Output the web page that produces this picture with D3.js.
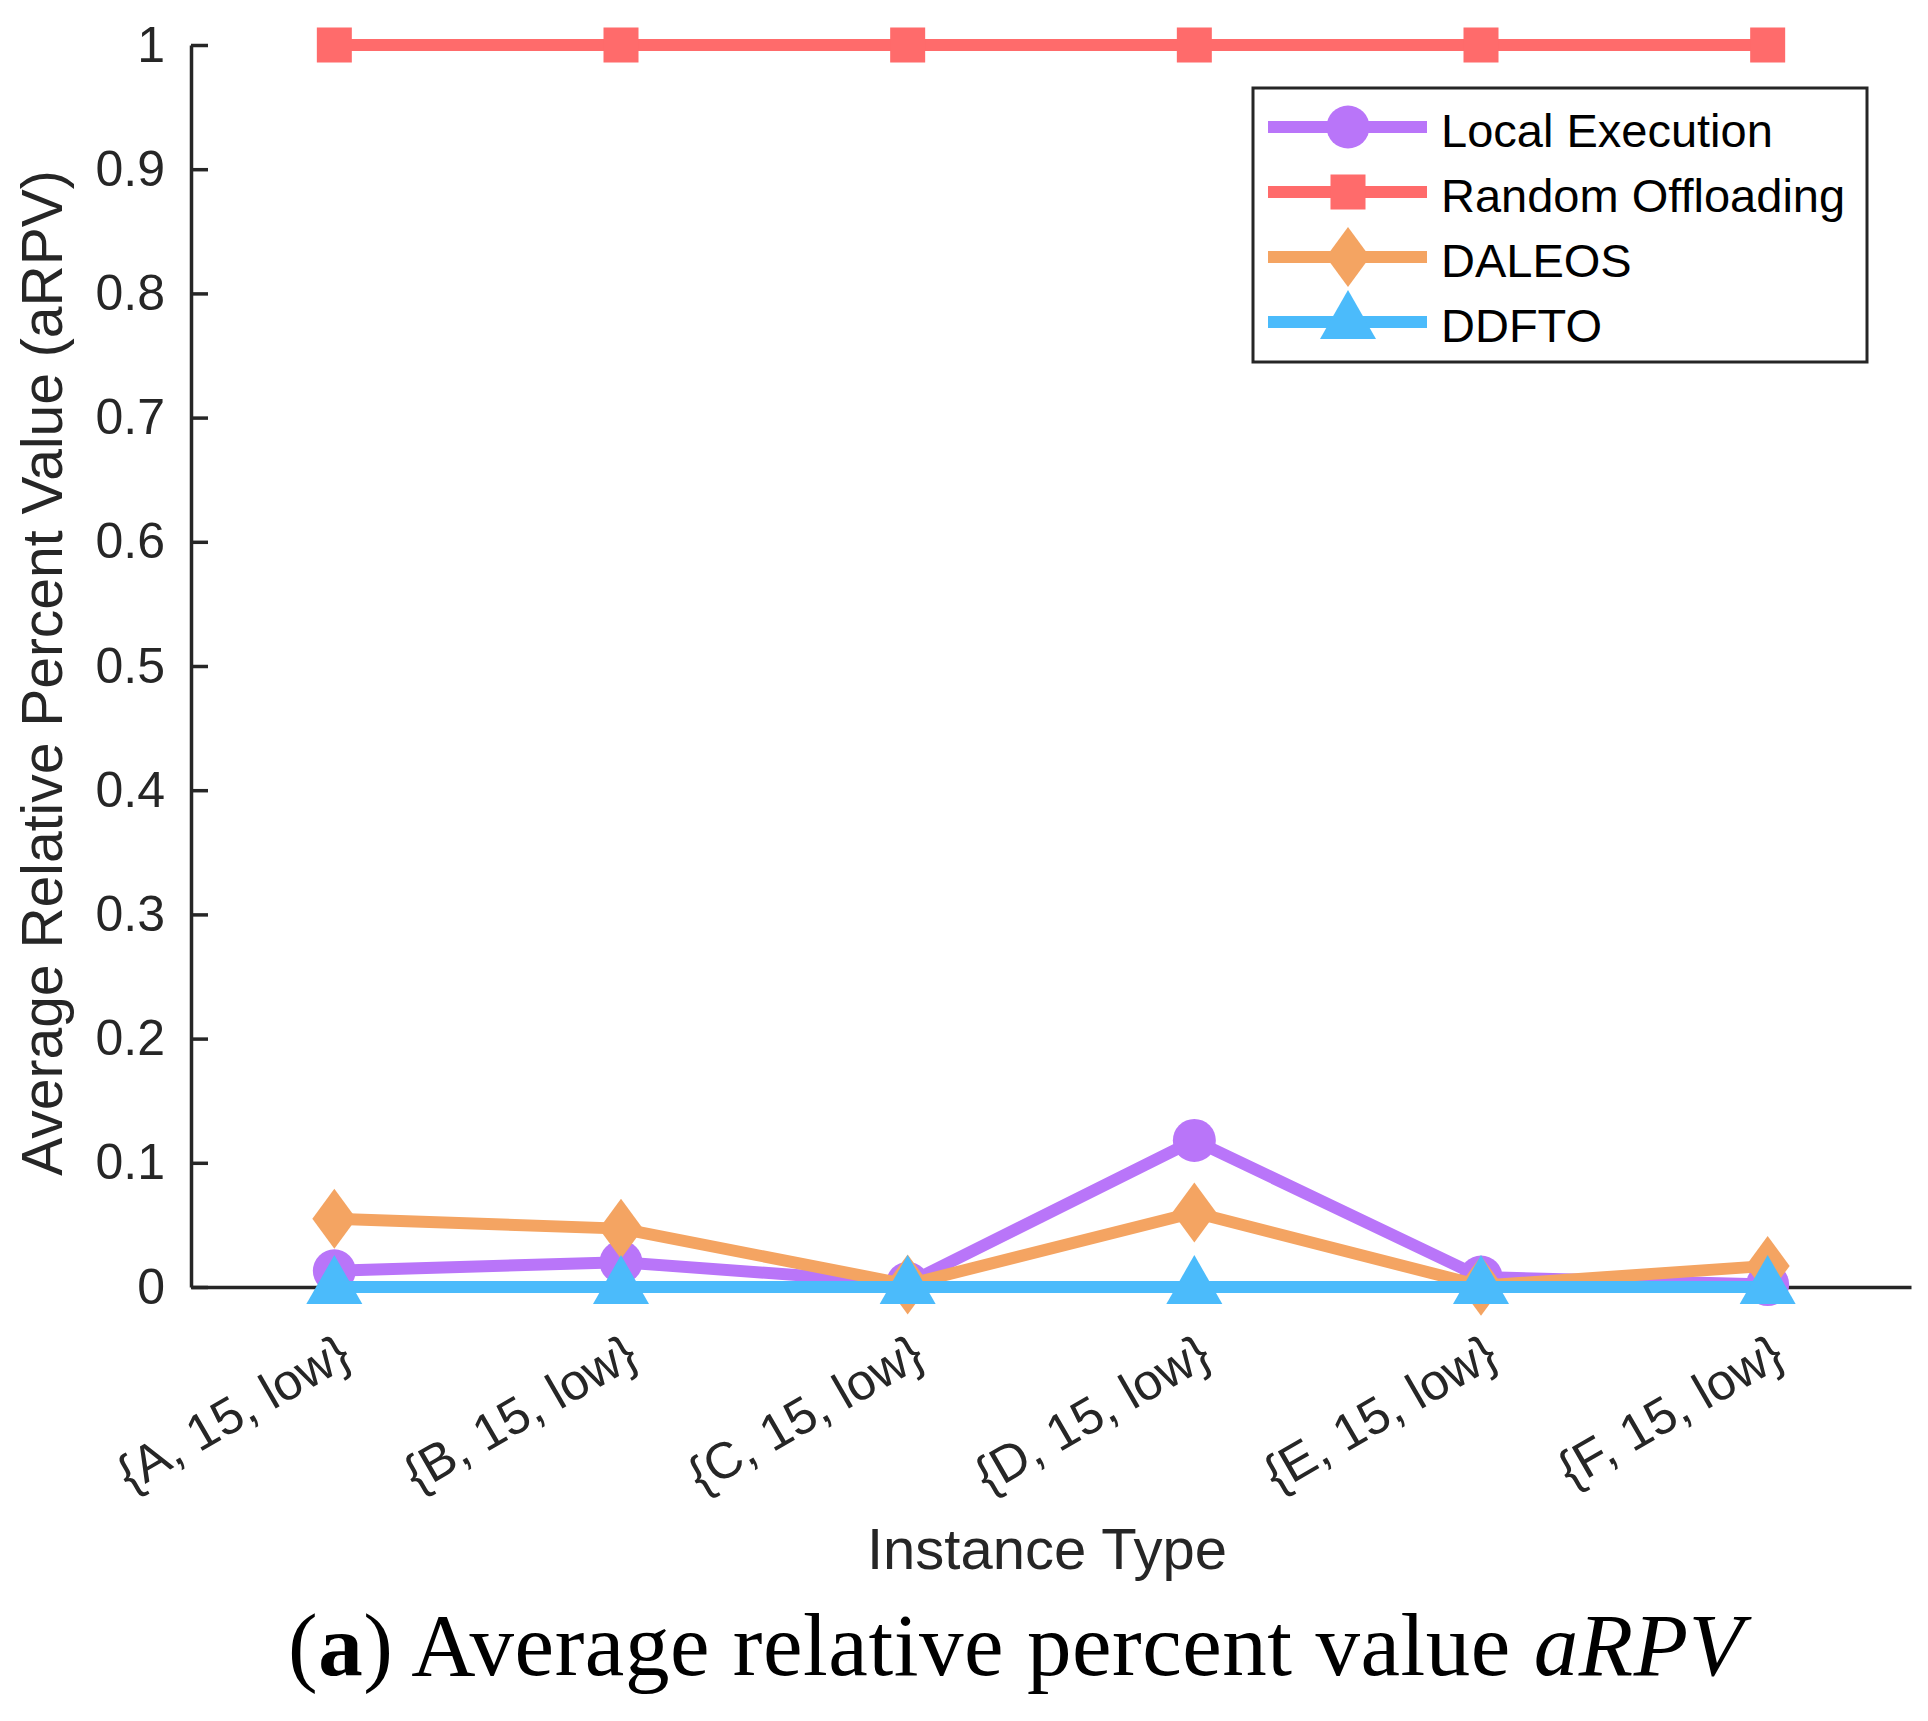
<!DOCTYPE html>
<html>
<head>
<meta charset="utf-8">
<script src="https://cdn.jsdelivr.net/npm/d3@7"></script>
<style>
  body { margin: 0; background: #fff; }
  svg { display: block; }
  .tick text { font-family: "Liberation Sans", Arial, sans-serif; fill: #262626; }
</style>
</head>
<body>
<div id="chart"></div>
<script>
// data
const categories = ['{A, 15, low}', '{B, 15, low}', '{C, 15, low}', '{D, 15, low}', '{E, 15, low}', '{F, 15, low}'];
const localExecution = [0.013, 0.020, 0.003, 0.118, 0.008, 0.002];
const randomOffloading = [1, 1, 1, 1, 1, 1];
const daleos = [0.055, 0.047, 0.002, 0.060, 0.001, 0.017];
const ddfto = [0, 0, 0, 0, 0, 0];
const yTicks = [0, 0.1, 0.2, 0.3, 0.4, 0.5, 0.6, 0.7, 0.8, 0.9, 1];

const series = [
    {name: 'Local Execution', values: localExecution, color: '#B975F9', marker: 'circle'},
    {name: 'Random Offloading', values: randomOffloading, color: '#FF6B6B', marker: 'square'},
    {name: 'DALEOS', values: daleos, color: '#F4A462', marker: 'diamond'},
    {name: 'DDFTO', values: ddfto, color: '#4BBBFB', marker: 'triangle'}
];

const width = 1928, height = 1721;
const plot = {left: 191, right: 1911, top: 45, bottom: 1287};

const svg = d3.select('#chart').append('svg')
    .attr('width', width)
    .attr('height', height);

const x = d3.scaleLinear().domain([0.5, categories.length + 0.5]).range([plot.left, plot.right]);
const y = d3.scaleLinear().domain([0, 1]).range([plot.bottom, plot.top]);

// marker shapes, sized like the original
function markerPath(type) {
    if (type === 'circle') {
        const r = 21.5;
        return `M${-r},0A${r},${r} 0 1,0 ${r},0A${r},${r} 0 1,0 ${-r},0Z`;
    }
    if (type === 'square') return 'M-17.5,-17.5H17.5V17.5H-17.5Z';
    if (type === 'diamond') return 'M0,-30L22,0L0,30L-22,0Z';
    return 'M0,-32L28,17L-28,17Z';
}

// axes
const yAxis = d3.axisLeft(y)
    .tickValues(yTicks)
    .tickSizeInner(-17)
    .tickSizeOuter(0)
    .tickPadding(26)
    .tickFormat(d => String(+d.toFixed(1)));

const gy = svg.append('g')
    .attr('transform', `translate(${plot.left},0)`)
    .call(yAxis);
gy.selectAll('text').style('font-size', '50px');

const xAxis = d3.axisBottom(x)
    .tickValues(d3.range(1, categories.length + 1))
    .tickSizeInner(-17)
    .tickSizeOuter(0)
    .tickFormat(d => categories[d - 1]);

const gx = svg.append('g')
    .attr('transform', `translate(0,${plot.bottom})`)
    .call(xAxis);
gx.selectAll('text')
    .style('font-size', '51px')
    .attr('text-anchor', 'end')
    .attr('y', 0)
    .attr('dy', '0.35em')
    .attr('transform', 'translate(10,61) rotate(-30)');

svg.selectAll('.domain, .tick line')
    .attr('stroke', '#262626')
    .attr('stroke-width', 3.5);

// series
const line = d3.line()
    .x((d, i) => x(i + 1))
    .y(d => y(d));

series.forEach(s => {
    const g = svg.append('g').attr('class', 'series');
    g.append('path')
        .datum(s.values)
        .attr('d', line)
        .attr('fill', 'none')
        .attr('stroke', s.color)
        .attr('stroke-width', 12)
        .attr('stroke-linejoin', 'round');
    g.selectAll('.mark')
        .data(s.values)
        .enter()
        .append('path')
        .attr('class', 'mark')
        .attr('d', markerPath(s.marker))
        .attr('transform', (d, i) => `translate(${x(i + 1)},${y(d)})`)
        .attr('fill', s.color);
});

// axis titles
svg.append('text')
    .attr('transform', 'translate(62,673) rotate(-90)')
    .attr('text-anchor', 'middle')
    .style('font-family', '"Liberation Sans", Arial, sans-serif')
    .style('font-size', '57px')
    .attr('fill', '#262626')
    .text('Average Relative Percent Value (aRPV)');

svg.append('text')
    .attr('x', 1047)
    .attr('y', 1569)
    .attr('text-anchor', 'middle')
    .style('font-family', '"Liberation Sans", Arial, sans-serif')
    .style('font-size', '58px')
    .attr('fill', '#262626')
    .text('Instance Type');

// legend
const legend = svg.append('g').attr('class', 'legend');
legend.append('rect')
    .attr('x', 1253).attr('y', 88)
    .attr('width', 614).attr('height', 274)
    .attr('fill', '#fff')
    .attr('stroke', '#262626')
    .attr('stroke-width', 3);

const rows = legend.selectAll('.row')
    .data(series)
    .enter()
    .append('g')
    .attr('class', 'row')
    .attr('transform', (d, i) => `translate(0,${127 + i * 65})`);

rows.append('line')
    .attr('x1', 1268).attr('x2', 1427)
    .attr('stroke', d => d.color)
    .attr('stroke-width', 12);
rows.append('path')
    .attr('d', d => markerPath(d.marker))
    .attr('transform', 'translate(1348,0)')
    .attr('fill', d => d.color);
rows.append('text')
    .attr('x', 1441)
    .attr('y', 19.5)
    .style('font-family', '"Liberation Sans", Arial, sans-serif')
    .style('font-size', '47px')
    .attr('fill', '#000')
    .text(d => d.name);

// caption
const caption = svg.append('text')
    .attr('x', 288)
    .attr('y', 1675)
    .attr('textLength', 1455)
    .attr('lengthAdjust', 'spacing')
    .style('font-family', '"Liberation Serif", "Times New Roman", serif')
    .style('font-size', '89px')
    .attr('fill', '#000');
caption.append('tspan').text('(');
caption.append('tspan').style('font-weight', 'bold').text('a');
caption.append('tspan').text(') Average relative percent value ');
caption.append('tspan').style('font-style', 'italic').text('aRPV');
</script>
</body>
</html>
